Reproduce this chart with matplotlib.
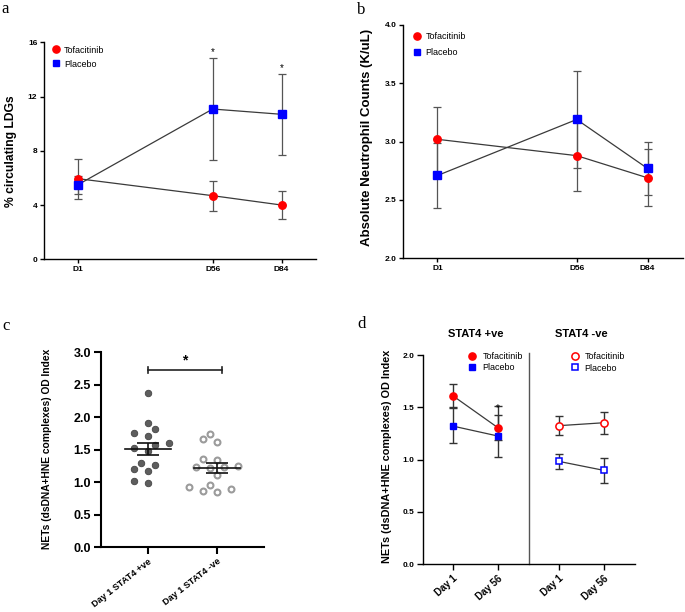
import numpy as np
import matplotlib
matplotlib.use('Agg')
import matplotlib.pyplot as plt
from matplotlib.lines import Line2D

plt.rcParams['font.family'] = ['Liberation Sans', 'DejaVu Sans']

RED = '#ff0000'
BLUE = '#0000ff'
ERR = '#555555'
LINE = '#3a3a3a'

# panel a: % circulating LDGs
days = [1, 56, 84]
day_labels = ['D1', 'D56', 'D84']
ldg_tofa = [5.95, 4.69, 4.0]
ldg_tofa_err = [1.48, 1.1, 1.0]
ldg_plac = [5.48, 11.08, 10.69]
ldg_plac_err = [0.69, 3.77, 3.0]
ldg_star_days = [56, 84]

# panel b: absolute neutrophil counts
anc_tofa = [3.02, 2.88, 2.69]
anc_tofa_err = [0.28, 0.30, 0.245]
anc_plac = [2.71, 3.19, 2.77]
anc_plac_err = [0.28, 0.415, 0.225]

# panel c: NETs at day 1 by STAT4 status
c_groups = ['Day 1 STAT4 +ve', 'Day 1 STAT4 -ve']
nets_pos = [2.37, 1.91, 1.82, 1.71, 1.75, 1.57, 1.60, 1.53, 1.48,
            1.20, 1.26, 1.30, 1.17, 0.99, 1.02]
nets_neg = [1.74, 1.62, 1.66, 1.36, 1.24, 1.25, 1.22, 1.34, 1.23,
            1.11, 0.95, 0.85, 0.92, 0.86, 0.90]

# panel d: NETs by STAT4 status and treatment
d_day_labels = ['Day 1', 'Day 56', 'Day 1', 'Day 56']
d_tofa_pos = [1.61, 1.305]
d_tofa_pos_err = [0.108, 0.12]
d_plac_pos = [1.32, 1.225]
d_plac_pos_lo = [0.166, 0.198]
d_plac_pos_hi = [0.175, 0.29]
d_tofa_neg = [1.324, 1.352]
d_tofa_neg_err = [0.09, 0.107]
d_plac_neg = [0.982, 0.896]
d_plac_neg_err = [0.074, 0.118]


def style_axes(ax, lw=1.0, tick_len=3, labelsize=6):
    for s in ['top', 'right']:
        ax.spines[s].set_visible(False)
    for s in ['left', 'bottom']:
        ax.spines[s].set_linewidth(lw)
    ax.tick_params(direction='out', length=tick_len, width=lw, labelsize=labelsize, pad=2)
    for lab in ax.get_xticklabels() + ax.get_yticklabels():
        lab.set_fontweight('bold')


def time_panel(ax, tofa, tofa_err, plac, plac_err):
    ax.errorbar(days, tofa, yerr=tofa_err, fmt='none', ecolor=ERR, elinewidth=0.9,
                capsize=3, capthick=0.9, zorder=2)
    ax.errorbar(days, plac, yerr=plac_err, fmt='none', ecolor=ERR, elinewidth=0.9,
                capsize=3, capthick=0.9, zorder=2)
    ax.plot(days, tofa, color=LINE, lw=0.9, zorder=3)
    ax.plot(days, plac, color=LINE, lw=0.9, zorder=3)
    ax.plot(days, tofa, ls='none', marker='o', ms=5.4, mfc=RED, mec=RED, zorder=4)
    ax.plot(days, plac, ls='none', marker='s', ms=5.1, mfc=BLUE, mec=BLUE, zorder=5)
    ax.set_xticks(days)
    ax.set_xticklabels(day_labels)
    ax.set_xlim(-12.5, 98)


def marker_handles(ms=5.2, open_=False):
    if open_:
        h1 = Line2D([], [], ls='none', marker='o', ms=ms, mfc='white', mec=RED, mew=1.1)
        h2 = Line2D([], [], ls='none', marker='s', ms=ms - 0.3, mfc='white', mec=BLUE, mew=1.1)
    else:
        h1 = Line2D([], [], ls='none', marker='o', ms=ms, mfc=RED, mec=RED)
        h2 = Line2D([], [], ls='none', marker='s', ms=ms - 0.2, mfc=BLUE, mec=BLUE)
    return [h1, h2]


def swarm(vals, step_px=7.0, min_px=8.5, y_px=65.0, x_px=69.6):
    vals = np.asarray(vals)
    offs = np.zeros(len(vals))
    placed = []
    for i in np.argsort(vals):
        y = vals[i] * y_px
        for k in [0, -1, 1, -2, 2, -3, 3, -4, 4]:
            x = k * step_px
            if all((x - px) ** 2 + (y - py) ** 2 >= min_px ** 2 for px, py in placed):
                break
        placed.append((x, y))
        offs[i] = x / x_px
    return offs


fig = plt.figure(figsize=(6.85, 6.12), dpi=100)

# ---- a
ax_a = fig.add_axes([0.0647, 0.5763, 0.3966, 0.3546])
time_panel(ax_a, ldg_tofa, ldg_tofa_err, ldg_plac, ldg_plac_err)
ax_a.set_ylim(0, 16)
ax_a.set_yticks([0, 4, 8, 12, 16])
style_axes(ax_a)
for d in ldg_star_days:
    i = days.index(d)
    ax_a.text(d, ldg_plac[i] + ldg_plac_err[i] + 0.05, '*', ha='center', va='bottom', fontsize=7)
ax_a.set_ylabel('% circulating LDGs', fontsize=8.7, fontweight='bold')
ax_a.yaxis.set_label_coords(-0.10, 0.5)
ax_a.legend(marker_handles(), ['Tofacitinib', 'Placebo'], loc='upper left',
            bbox_to_anchor=(0.028, 0.985), frameon=False, fontsize=6.5, handlelength=1,
            handletextpad=0.35, borderpad=0, borderaxespad=0, labelspacing=0.55)

# ---- b
ax_b = fig.add_axes([0.5888, 0.5779, 0.4083, 0.3813])
time_panel(ax_b, anc_tofa, anc_tofa_err, anc_plac, anc_plac_err)
ax_b.set_ylim(2.0, 4.0)
ax_b.set_yticks([2.0, 2.5, 3.0, 3.5, 4.0])
ax_b.set_yticklabels(['2.0', '2.5', '3.0', '3.5', '4.0'])
style_axes(ax_b)
ax_b.set_ylabel('Absolute Neutrophil Counts (K/uL)', fontsize=9.5, fontweight='bold')
ax_b.yaxis.set_label_coords(-0.107, 0.516)
ax_b.legend(marker_handles(), ['Tofacitinib', 'Placebo'], loc='upper left',
            bbox_to_anchor=(0.033, 0.97), frameon=False, fontsize=6.5, handlelength=1,
            handletextpad=0.45, borderpad=0, borderaxespad=0, labelspacing=0.75)

# ---- c
ax_c = fig.add_axes([0.1474, 0.1062, 0.2384, 0.3181])
for gi, (vals, filled) in enumerate([(nets_pos, True), (nets_neg, False)]):
    x = gi + swarm(vals)
    if filled:
        ax_c.scatter(x, vals, s=22, c='#5e5e5e', edgecolors='#444444', linewidths=0.6, zorder=3)
    else:
        ax_c.scatter(x, vals, s=18, facecolors='white', edgecolors='#9b9b9b', linewidths=1.5, zorder=3)
    m = np.mean(vals)
    sem = np.std(vals, ddof=1) / np.sqrt(len(vals))
    ax_c.plot([gi - 0.33, gi + 0.33], [m, m], color='#111111', lw=1.2, zorder=4)
    ax_c.errorbar([gi], [m], yerr=[sem], fmt='none', ecolor='#111111', elinewidth=1.2,
                  capsize=8, capthick=1.2, zorder=4)
bar_y = max(max(nets_pos), max(nets_neg)) + 0.36
ax_c.plot([0, 1.07], [bar_y, bar_y], color='#222222', lw=1.2)
ax_c.plot([0, 0], [bar_y - 0.05, bar_y + 0.05], color='#222222', lw=1.2)
ax_c.plot([1.07, 1.07], [bar_y - 0.05, bar_y + 0.05], color='#222222', lw=1.2)
ax_c.text(0.535, bar_y + 0.03, '*', ha='center', va='bottom', fontsize=10, fontweight='bold')
ax_c.set_xlim(-0.67, 1.675)
ax_c.set_ylim(0, 3.0)
ax_c.set_yticks(np.arange(0, 3.01, 0.5))
ax_c.set_xticks([0, 1])
ax_c.set_xticklabels(c_groups, rotation=38, ha='right', rotation_mode='anchor')
style_axes(ax_c, lw=1.5, tick_len=5, labelsize=9)
ax_c.tick_params(axis='x', labelsize=6.6, pad=2)
ax_c.set_ylabel('NETs (dsDNA+HNE complexes) OD Index', fontsize=7.4, fontweight='bold')
ax_c.yaxis.set_label_coords(-0.30, 0.503)

# ---- d
ax_d = fig.add_axes([0.6171, 0.0784, 0.3099, 0.3415])
xp = [0, 1]
xn = [2.36, 3.36]
ax_d.errorbar(xp, d_tofa_pos, yerr=d_tofa_pos_err, fmt='none', ecolor='#333333',
              elinewidth=1.0, capsize=3, capthick=1.0, zorder=2)
ax_d.errorbar(xp, d_plac_pos, yerr=[d_plac_pos_lo, d_plac_pos_hi], fmt='none', ecolor='#333333',
              elinewidth=1.0, capsize=3, capthick=1.0, zorder=2)
ax_d.errorbar(xn, d_tofa_neg, yerr=d_tofa_neg_err, fmt='none', ecolor='#333333',
              elinewidth=1.0, capsize=3, capthick=1.0, zorder=2)
ax_d.errorbar(xn, d_plac_neg, yerr=d_plac_neg_err, fmt='none', ecolor='#333333',
              elinewidth=1.0, capsize=3, capthick=1.0, zorder=2)
for xs, ys in [(xp, d_tofa_pos), (xp, d_plac_pos), (xn, d_tofa_neg), (xn, d_plac_neg)]:
    ax_d.plot(xs, ys, color=LINE, lw=0.9, zorder=3)
ax_d.plot(xp, d_tofa_pos, ls='none', marker='o', ms=5.2, mfc=RED, mec=RED, zorder=4)
ax_d.plot(xp, d_plac_pos, ls='none', marker='s', ms=5.0, mfc=BLUE, mec=BLUE, zorder=5)
ax_d.plot(xn, d_tofa_neg, ls='none', marker='o', ms=5.2, mfc='white', mec=RED, mew=1.1, zorder=4)
ax_d.plot(xn, d_plac_neg, ls='none', marker='s', ms=4.9, mfc='white', mec=BLUE, mew=1.1, zorder=4)
ax_d.text(xp[1], d_tofa_pos[1] + d_tofa_pos_err[1] + 0.02, '*', ha='center', va='bottom', fontsize=7)
ax_d.axvline(1.695, ymin=0, ymax=1.01, color='#555555', lw=1.0, clip_on=False)
ax_d.text(0.5, 2.2, 'STAT4 +ve', ha='center', va='center', fontsize=8, fontweight='bold')
ax_d.text(2.86, 2.2, 'STAT4 -ve', ha='center', va='center', fontsize=8, fontweight='bold')
ax_d.set_xlim(-0.67, 4.05)
ax_d.set_ylim(0, 2.0)
ax_d.set_yticks([0, 0.5, 1.0, 1.5, 2.0])
ax_d.set_yticklabels(['0.0', '0.5', '1.0', '1.5', '2.0'])
ax_d.set_xticks(xp + xn)
ax_d.set_xticklabels(d_day_labels, rotation=42, ha='right', rotation_mode='anchor')
style_axes(ax_d, lw=1.0, tick_len=4, labelsize=6)
ax_d.tick_params(axis='x', labelsize=7, pad=3)
ax_d.set_ylabel('NETs (dsDNA+HNE complexes) OD Index', fontsize=7.8, fontweight='bold')
ax_d.yaxis.set_label_coords(-0.146, 0.513)
leg1 = ax_d.legend(marker_handles(), ['Tofacitinib', 'Placebo'], loc='upper left',
                   bbox_to_anchor=(0.213, 1.016), frameon=False, fontsize=6.5, handlelength=1,
                   handletextpad=0.6, borderpad=0, borderaxespad=0, labelspacing=0.25)
ax_d.add_artist(leg1)
ax_d.legend(marker_handles(open_=True), ['Tofacitinib', 'Placebo'], loc='upper left',
            bbox_to_anchor=(0.694, 1.013), frameon=False, fontsize=6.5, handlelength=1,
            handletextpad=0.6, borderpad=0, borderaxespad=0, labelspacing=0.25)

# panel letters
for lab, x, y in [('a', 1, 13), ('b', 357, 14), ('c', 2, 330), ('d', 357, 328)]:
    fig.text(x / 685, 1 - y / 612, lab, family=['Liberation Serif', 'DejaVu Serif'],
             fontsize=12, ha='left', va='baseline')

fig.savefig('out.png', dpi=100)
